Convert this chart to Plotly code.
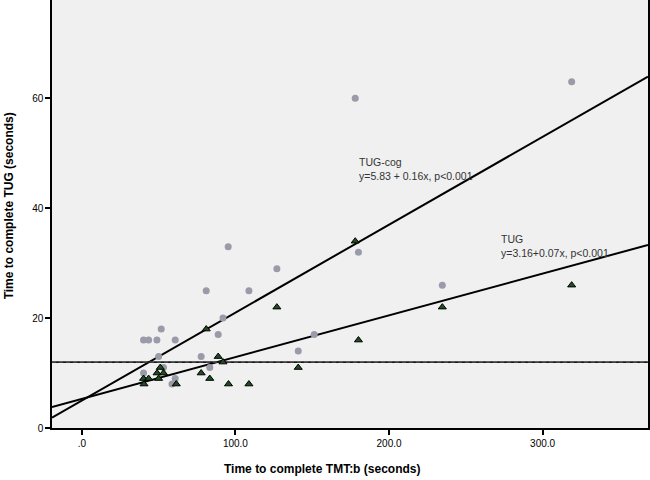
import plotly.graph_objects as go

# TUG-cog (circles)
cog_x = [40.2, 43.5, 48.9, 60.8, 51.7, 50.0, 40.2, 53.2, 60.8, 58.7, 77.7, 83.3,
         88.8, 91.9, 81.0, 108.8, 95.3, 127.0, 140.9, 151.3, 180.1, 178.0, 234.7, 318.9]
cog_y = [16, 16, 16, 16, 18, 13, 10, 11, 9, 8, 13, 11,
         17, 20, 25, 25, 33, 29, 14, 17, 32, 60, 26, 63]

# TUG (triangles)
tug_x = [40.2, 40.5, 43.5, 49.0, 50.0, 51.1, 53.2, 61.5, 77.7, 81.0, 83.3, 88.8,
         91.9, 95.5, 108.8, 127.0, 140.9, 178.0, 180.1, 234.7, 318.9]
tug_y = [9, 8, 9, 10, 9, 11, 10, 8, 10, 18, 9, 13,
         12, 8, 8, 22, 11, 34, 16, 22, 26]

# fitted lines (intercept, slope) as drawn
cog_fit = (5.0, 0.160)
tug_fit = (5.3, 0.076)
ref_level = 12

x_range = [-19.4, 368.6]
y_range = [0, 77.9]
x_ticks = [0, 100, 200, 300]
x_ticklabels = [".0", "100.0", "200.0", "300.0"]
y_ticks = [0, 20, 40, 60]

FONT = "Liberation Sans, Arial, sans-serif"

fig = go.Figure()

fig.add_trace(go.Scatter(
    x=x_range, y=[cog_fit[0] + cog_fit[1] * v for v in x_range],
    mode="lines", line=dict(color="black", width=2), showlegend=False, hoverinfo="skip"))
fig.add_trace(go.Scatter(
    x=x_range, y=[tug_fit[0] + tug_fit[1] * v for v in x_range],
    mode="lines", line=dict(color="black", width=2), showlegend=False, hoverinfo="skip"))
# reference line: dark solid with faint dashed texture
fig.add_trace(go.Scatter(
    x=x_range, y=[ref_level, ref_level],
    mode="lines", line=dict(color="#1a1a1a", width=1.8),
    showlegend=False, hoverinfo="skip"))
fig.add_trace(go.Scatter(
    x=x_range, y=[ref_level, ref_level],
    mode="lines", line=dict(color="#8a8a8a", width=0.6, dash="4px,3px"),
    showlegend=False, hoverinfo="skip"))

fig.add_trace(go.Scatter(
    x=cog_x, y=cog_y, mode="markers", name="TUG-cog",
    marker=dict(symbol="circle", size=7, color="#9a9aa8", line=dict(width=0)),
    showlegend=False))
fig.add_trace(go.Scatter(
    x=tug_x, y=tug_y, mode="markers", name="TUG",
    marker=dict(symbol="triangle-up", size=7, color="#1f4d1f",
                line=dict(color="black", width=1)),
    showlegend=False))

fig.add_annotation(x=179.2, y=47.2, xref="x", yref="y", xanchor="left", yanchor="middle",
                   text="TUG-cog<br>y=5.83 + 0.16x, p<0.001", showarrow=False, align="left",
                   font=dict(family=FONT, size=10.5, color="#333333"))
fig.add_annotation(x=271.8, y=33.1, xref="x", yref="y", xanchor="left", yanchor="middle",
                   text="TUG<br>y=3.16+0.07x, p<0.001", showarrow=False, align="left",
                   font=dict(family=FONT, size=10.5, color="#333333"))

fig.add_annotation(x=0.453, y=-0.096, xref="paper", yref="paper", xanchor="center",
                   yanchor="middle", text="<b>Time to complete TMT:b (seconds)</b>",
                   showarrow=False, font=dict(family=FONT, size=12, color="black"))
fig.add_annotation(x=-0.073, y=0.519, xref="paper", yref="paper", xanchor="center",
                   yanchor="middle", text="<b>Time to complete TUG (seconds)</b>",
                   textangle=-90, showarrow=False, font=dict(family=FONT, size=12, color="black"))

axis_common = dict(showgrid=False, zeroline=False, showline=True, mirror=True,
                   linecolor="black", linewidth=1.5, ticks="outside", ticklen=5,
                   tickwidth=1.5, tickcolor="black",
                   tickfont=dict(family=FONT, size=10, color="black"))

fig.update_layout(
    width=650, height=480, autosize=False,
    margin=dict(l=52, r=2, t=0, b=52, autoexpand=False),
    paper_bgcolor="white", plot_bgcolor="#f0f0f0",
    xaxis=dict(range=x_range, tickvals=x_ticks, ticktext=x_ticklabels, **axis_common),
    yaxis=dict(range=y_range, tickvals=y_ticks, **axis_common),
)

post = ("document.body.style.margin='0';document.body.style.overflow='hidden';"
        "var gd=document.getElementById('{plot_id}');"
        "Plotly.relayout(gd,{width:650,height:480});")

fig.write_html("out.html", post_script=post,
               config={"responsive": False, "displayModeBar": False})
